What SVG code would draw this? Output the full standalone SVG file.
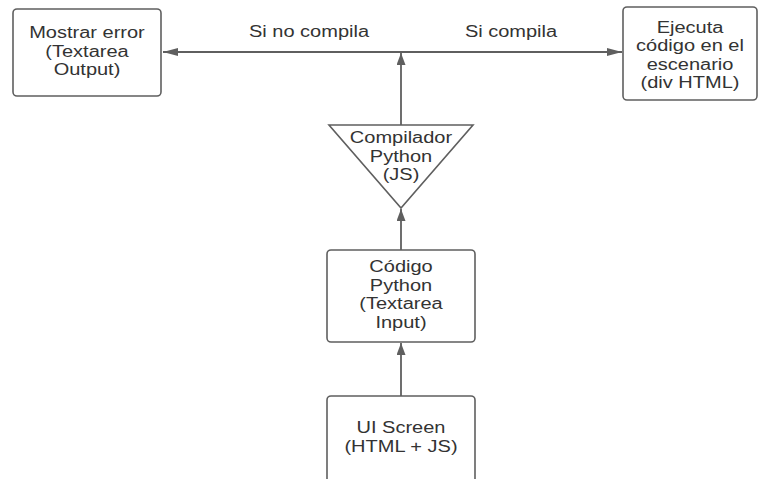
<svg xmlns="http://www.w3.org/2000/svg" width="759" height="479" viewBox="0 0 759 479">
<style>
.box{fill:#fff;stroke:#5f5f5f;stroke-width:1.6}
.ln{fill:none;stroke:#5f5f5f;stroke-width:1.8}
.t{font-family:"Liberation Sans",Arial,sans-serif;font-size:16px;fill:#333;text-anchor:middle}
</style>
<defs>
<marker id="ah" viewBox="0 0 12 10" refX="12" refY="5" markerWidth="12" markerHeight="9" markerUnits="userSpaceOnUse" orient="auto" preserveAspectRatio="none">
<path d="M0,0 L12,5 L0,10 Z" fill="#5f5f5f"/>
</marker>
<marker id="ahh" viewBox="0 0 12 10" refX="12" refY="5" markerWidth="15" markerHeight="8" markerUnits="userSpaceOnUse" orient="auto" preserveAspectRatio="none">
<path d="M0,0 L12,5 L0,10 Z" fill="#5f5f5f"/>
</marker>
</defs>
<rect width="759" height="479" fill="#fff"/>
<g id="connectors">
<line class="ln" x1="401" y1="52" x2="163" y2="52" marker-end="url(#ahh)"/>
<line class="ln" x1="401" y1="52" x2="622" y2="52" marker-end="url(#ahh)"/>
<line class="ln" x1="401" y1="125" x2="401" y2="53" marker-end="url(#ah)"/>
<line class="ln" x1="401" y1="250" x2="401" y2="209" marker-end="url(#ah)"/>
<line class="ln" x1="401" y1="396" x2="401" y2="343" marker-end="url(#ah)"/>
<text class="t" transform="translate(309,37) scale(1.25,1)">Si no compila</text>
<text class="t" transform="translate(511,37) scale(1.25,1)">Si compila</text>
</g>
<g id="mostrar-error">
<rect class="box" x="13" y="9" width="148" height="87" rx="4"/>
<text class="t" transform="translate(87,38) scale(1.25,1)">Mostrar error</text>
<text class="t" transform="translate(87,56.5) scale(1.25,1)">(Textarea</text>
<text class="t" transform="translate(87,75) scale(1.25,1)">Output)</text>
</g>
<g id="ejecuta">
<rect class="box" x="623" y="7" width="134" height="93" rx="4"/>
<text class="t" transform="translate(690,33) scale(1.25,1)">Ejecuta</text>
<text class="t" transform="translate(690,51) scale(1.25,1)">código en el</text>
<text class="t" transform="translate(690,69.5) scale(1.25,1)">escenario</text>
<text class="t" transform="translate(690,88) scale(1.25,1)">(div HTML)</text>
</g>
<g id="compilador">
<polygon class="box" points="329,125 473,125 401,208"/>
<text class="t" transform="translate(401,143) scale(1.25,1)">Compilador</text>
<text class="t" transform="translate(401,161.5) scale(1.25,1)">Python</text>
<text class="t" transform="translate(401,180) scale(1.25,1)">(JS)</text>
</g>
<g id="codigo-python">
<rect class="box" x="327" y="250" width="148" height="92" rx="4"/>
<text class="t" transform="translate(401,272) scale(1.25,1)">Código</text>
<text class="t" transform="translate(401,290.5) scale(1.25,1)">Python</text>
<text class="t" transform="translate(401,309) scale(1.25,1)">(Textarea</text>
<text class="t" transform="translate(401,327.5) scale(1.25,1)">Input)</text>
</g>
<g id="ui-screen">
<rect class="box" x="327" y="396" width="148" height="100" rx="4"/>
<text class="t" transform="translate(401,433) scale(1.25,1)">UI Screen</text>
<text class="t" transform="translate(401,451.5) scale(1.25,1)">(HTML + JS)</text>
</g>
</svg>
